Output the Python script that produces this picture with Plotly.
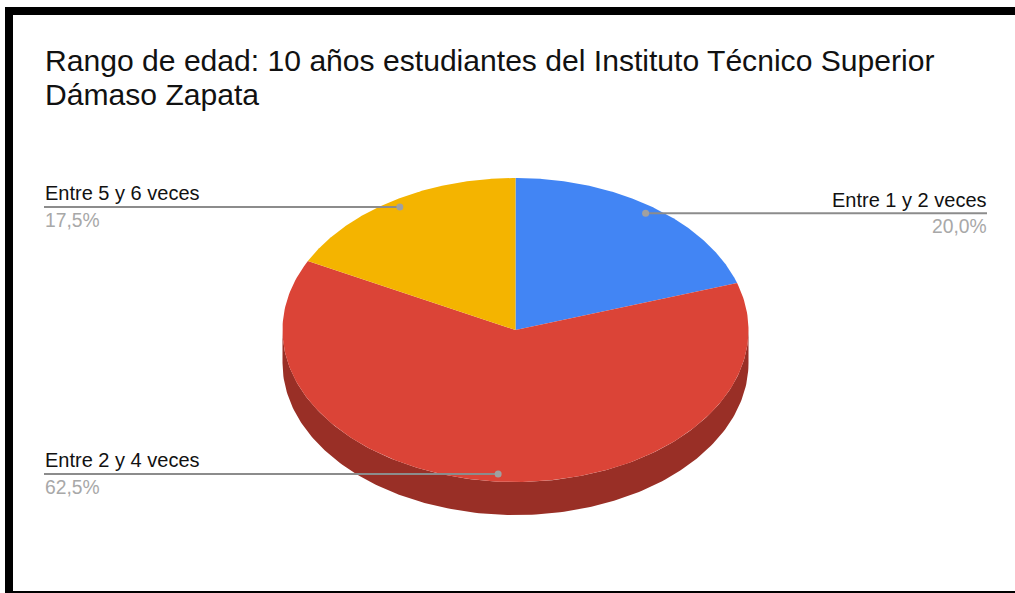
import numpy as np
import plotly.graph_objects as go

# Datos de la encuesta
categories = ['Entre 1 y 2 veces', 'Entre 2 y 4 veces', 'Entre 5 y 6 veces']
values = [20.0, 62.5, 17.5]
colors = ['#4285f4', '#db4437', '#f4b400']
title_lines = ['Rango de edad: 10 años estudiantes del Instituto Técnico Superior', 'Dámaso Zapata']

# the axes run in pixels so the tilted pie can be placed like the original
CX, CY = 515.5, 330
RX, RY = 233, 152
DEPTH = 33
DOT_R = 0.95
FONT = 'Liberation Sans'


def ellipse(angles, dy=0.0, r=1.0):
    # angle in degrees, clockwise from 12 o'clock
    a = np.radians(angles)
    return CX + r * RX * np.sin(a), CY + dy - r * RY * np.cos(a)


fig = go.Figure()

# side of the disc
top_x, top_y = ellipse(np.linspace(90, 270, 181))
low_x, low_y = ellipse(np.linspace(270, 90, 181), dy=DEPTH)
fig.add_trace(go.Scatter(x=np.r_[top_x, low_x], y=np.r_[top_y, low_y], fill='toself', mode='lines',
                         line=dict(width=0), fillcolor='#992f26', hoverinfo='skip'))

# slices
start = 0.0
mids = []
for cat, val, col in zip(categories, values, colors):
    sweep = val / sum(values) * 360
    xs, ys = ellipse(np.linspace(start, start + sweep, 200))
    fig.add_trace(go.Scatter(x=np.r_[CX, xs, CX], y=np.r_[CY, ys, CY], fill='toself', mode='lines',
                             line=dict(width=0), fillcolor=col, name=cat, hoverinfo='name'))
    mids.append(start + sweep / 2)
    start += sweep

# leader lines and labels
for cat, val, mid in zip(categories, values, mids):
    dx, dy = ellipse(np.array([mid]), r=DOT_R)
    right = mid < 90
    end = 987 if right else 44
    text_x = end + 1 if right else end
    anchor = 'right' if right else 'left'
    fig.add_trace(go.Scatter(x=[end, dx[0]], y=[dy[0], dy[0]], mode='lines', line=dict(color='#8c8c8c', width=2),
                             hoverinfo='skip'))
    fig.add_trace(go.Scatter(x=[dx[0]], y=[dy[0]], mode='markers', marker=dict(color='#a0a0a0', size=7),
                             hoverinfo='skip'))
    fig.add_annotation(x=text_x, y=dy[0] - 1.5, text=cat, xanchor=anchor, yanchor='bottom', showarrow=False,
                       borderpad=0, font=dict(family=FONT, size=20, color='#111111'))
    fig.add_annotation(x=text_x, y=dy[0] + 2, text=f'{val:.1f}%'.replace('.', ','), xanchor=anchor, yanchor='top',
                       showarrow=False, borderpad=0, font=dict(family=FONT, size=19.3, color='#a8a8a8'))

for line, y in zip(title_lines, [60, 94]):
    fig.add_annotation(x=44, y=y, text=line, xanchor='left', yanchor='middle', showarrow=False, borderpad=0,
                       font=dict(family=FONT, size=30.1, color='#111111'))

# black frame of the screenshot
fig.add_shape(type='rect', x0=5, x1=1015, y0=7, y1=15, fillcolor='black', line_width=0)
fig.add_shape(type='rect', x0=5, x1=13, y0=7, y1=593, fillcolor='black', line_width=0)
fig.add_shape(type='rect', x0=5, x1=1015, y0=591, y1=593, fillcolor='black', line_width=0)

fig.update_layout(
    width=1015,
    height=593,
    margin=dict(l=0, r=0, t=0, b=0),
    showlegend=False,
    plot_bgcolor='white',
    paper_bgcolor='white',
    xaxis=dict(range=[0, 1015], visible=False, fixedrange=True),
    yaxis=dict(range=[593, 0], visible=False, fixedrange=True),
)

fig.write_html("out.html", config=dict(displayModeBar=False),
               post_script="document.body.style.margin='0';document.body.style.overflow='hidden';")
